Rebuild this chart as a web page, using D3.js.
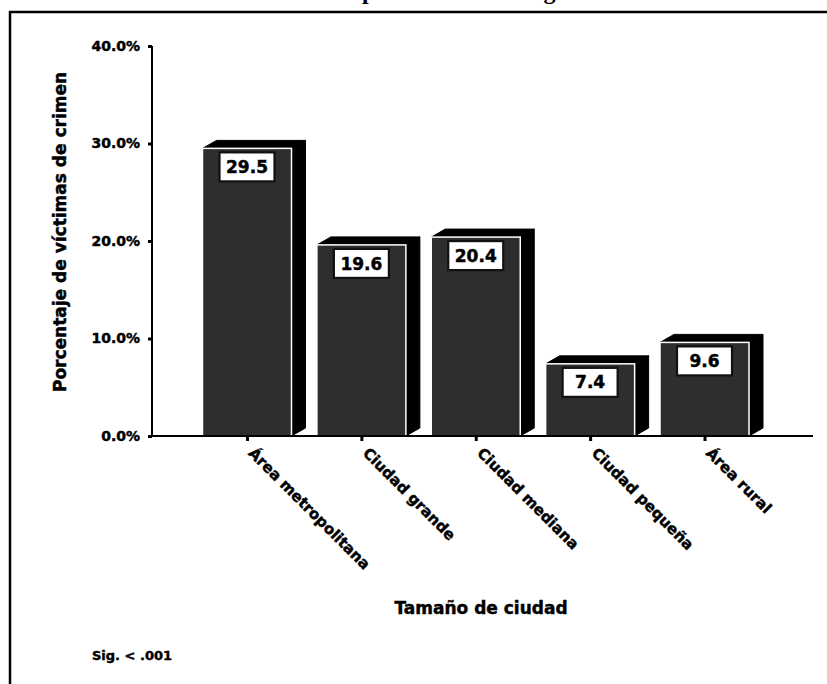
<!DOCTYPE html>
<html><head><meta charset="utf-8">
<script src="https://cdn.jsdelivr.net/npm/d3@7"></script>
<style>
html,body{margin:0;padding:0;background:#fff;}
svg{display:block;}
</style></head>
<body>
<svg id="chart" width="827" height="684"></svg>
<script>
const categories = ["Área metropolitana","Ciudad grande","Ciudad mediana","Ciudad pequeña","Área rural"];
const values = [29.5, 19.6, 20.4, 7.4, 9.6];
const yTicks = [0, 10, 20, 30, 40];
const titleText = "Victimización por tamaño del lugar";
const yTitle = "Porcentaje de víctimas de crimen";
const xTitle = "Tamaño de ciudad";
const note = "Sig. < .001";

const svg = d3.select("#chart");
const SANS = "'DejaVu Sans', Verdana, sans-serif";
const heavy = sel => sel.attr("font-family",SANS).attr("font-weight","bold")
  .attr("fill","#000").attr("stroke","#000").attr("stroke-width",0.45);

// frame
svg.append("rect").attr("x",10).attr("y",12).attr("width",840).attr("height",700)
  .attr("fill","none").attr("stroke","#000").attr("stroke-width",2.5);

// title (mostly cut off at top, as in the reference)
const t = svg.append("text").attr("y",-1).attr("font-family","'Liberation Serif','Times New Roman',serif")
  .attr("font-weight","bold").attr("font-size",24).attr("fill","#000").text(titleText);
const pIdx = titleText.indexOf("p");
const pPos = t.node().getStartPositionOfChar(pIdx).x;
t.attr("x", 368 - 6 - pPos);

const y = d3.scaleLinear().domain([0,40]).range([436,46]);
const x = d3.scalePoint().domain(categories).range([247,704.5]);
const barW = 89, dx = 14, dy = 8;

// bars
const g = svg.append("g");
categories.forEach((c,i)=>{
  const cx = x(c), x0 = cx - barW/2, x1 = cx + barW/2;
  const yt = y(values[i]), yb = y(0);
  g.append("path").attr("d",`M${x1},${yt}L${x1+dx},${yt-dy}L${x1+dx},${yb-dy}L${x1},${yb}Z`)
    .attr("fill","#000").attr("stroke","#000").attr("stroke-width",1);
  g.append("path").attr("d",`M${x0},${yt}L${x0+dx},${yt-dy}L${x1+dx},${yt-dy}L${x1},${yt}Z`)
    .attr("fill","#000").attr("stroke","#000").attr("stroke-width",1);
  g.append("rect").attr("x",x0).attr("y",yt).attr("width",barW).attr("height",yb-yt)
    .attr("fill","#2e2e2e").attr("stroke","#fff").attr("stroke-width",1.5);
  const bw = 55, bh = 29;
  g.append("rect").attr("x",cx-bw/2).attr("y",yt+4).attr("width",bw).attr("height",bh)
    .attr("fill","#fff").attr("stroke","#111").attr("stroke-width",2.2);
  g.append("text").attr("x",cx).attr("y",yt+4+bh/2).attr("dy","0.36em")
    .attr("text-anchor","middle").attr("font-size",17).call(heavy).text(values[i].toFixed(1));
});

// y axis
const ya = svg.append("g").attr("transform","translate(152,0)")
  .call(d3.axisLeft(y).tickValues(yTicks).tickFormat(d=>d.toFixed(1)+"%").tickSize(4).tickPadding(8));
ya.select(".domain").attr("stroke","#000").attr("stroke-width",2).attr("d","M0,46V436");
ya.selectAll(".tick line").attr("stroke","#000").attr("stroke-width",3);
ya.selectAll(".tick text").attr("font-size",14).call(heavy);

// x axis
const xa = svg.append("g").attr("transform","translate(0,436)")
  .call(d3.axisBottom(x).tickSize(5).tickPadding(0));
xa.select(".domain").attr("stroke","#000").attr("stroke-width",2).attr("d","M152,0H813");
xa.selectAll(".tick line").attr("stroke","#000").attr("stroke-width",3);
xa.selectAll(".tick text").attr("font-size",15).call(heavy)
  .attr("text-anchor","start").attr("dy",null).attr("y",null)
  .attr("transform","translate(0,18) rotate(45)");

// axis titles and note
svg.append("text").attr("transform","translate(66,232) rotate(-90)").attr("text-anchor","middle")
  .attr("font-size",17).call(heavy).text(yTitle);
svg.append("text").attr("x",481).attr("y",614).attr("text-anchor","middle")
  .attr("font-size",17).call(heavy).text(xTitle);
svg.append("text").attr("x",92).attr("y",660)
  .attr("font-size",13).call(heavy).text(note);
</script>
</body></html>
